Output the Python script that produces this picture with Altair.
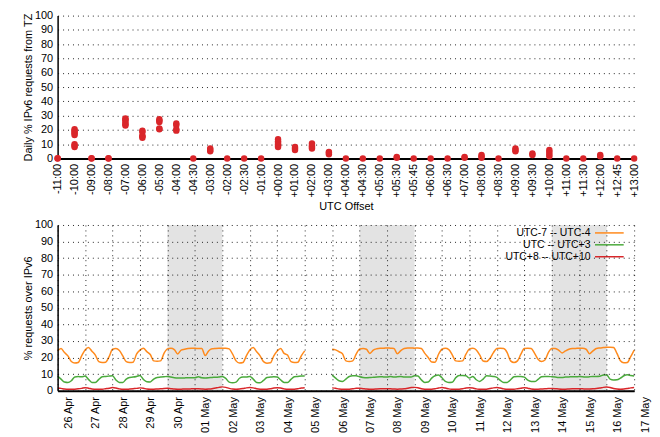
import json
import altair as alt
import pandas as pd

# ---------------- top panel data ----------------
offsets = ["-11:00", "-10:00", "-09:00", "-08:00", "-07:00", "-06:00", "-05:00", "-04:00",
           "-04:30", "-03:00", "-02:00", "-02:30", "-01:00", "+00:00", "+01:00", "+02:00",
           "+03:00", "+04:00", "+04:30", "+05:00", "+05:30", "+05:45", "+06:00", "+06:30",
           "+07:00", "+08:00", "+08:30", "+09:00", "+09:30", "+10:00", "+11:00", "+11:30",
           "+12:00", "+12:45", "+13:00"]

daily_pct = {
    "-11:00": [0.0, 0.2],
    "-10:00": [16.5, 17.5, 18.5, 19.5, 20.5, 8.0, 9.0, 10.0],
    "-09:00": [0.0, 0.2],
    "-08:00": [0.0, 0.2],
    "-07:00": [23.0, 24.0, 25.0, 26.5, 27.5, 28.0],
    "-06:00": [14.5, 15.5, 16.0, 18.5, 19.5],
    "-05:00": [20.5, 21.0, 25.5, 26.5, 27.5],
    "-04:00": [19.5, 20.5, 23.5, 24.5],
    "-04:30": [0.0],
    "-03:00": [5.0, 6.0, 7.0],
    "-02:00": [0.0],
    "-02:30": [0.0],
    "-01:00": [0.0],
    "+00:00": [8.0, 9.0, 10.0, 11.0, 12.0, 13.5],
    "+01:00": [6.0, 7.0, 8.0],
    "+02:00": [7.0, 8.0, 9.0, 10.5],
    "+03:00": [3.0, 4.0, 4.5],
    "+04:00": [0.0],
    "+04:30": [0.0],
    "+05:00": [0.0],
    "+05:30": [0.5, 1.0],
    "+05:45": [0.0],
    "+06:00": [0.0],
    "+06:30": [0.0],
    "+07:00": [0.5, 1.0],
    "+08:00": [0.5, 1.5, 2.5],
    "+08:30": [0.0],
    "+09:00": [5.0, 6.0, 7.0],
    "+09:30": [2.5, 3.5],
    "+10:00": [1.5, 3.0, 4.5, 6.0],
    "+11:00": [0.0],
    "+11:30": [0.0],
    "+12:00": [1.5, 2.5],
    "+12:45": [0.0],
    "+13:00": [0.0],
}

# ---------------- bottom panel data ----------------
day_labels = ["26 Apr", "27 Apr", "28 Apr", "29 Apr", "30 Apr", "01 May", "02 May", "03 May",
              "04 May", "05 May", "06 May", "07 May", "08 May", "09 May", "10 May", "11 May",
              "12 May", "13 May", "14 May", "15 May", "16 May", "17 May"]
series_names = ["UTC-7 -- UTC-4", "UTC -- UTC+3", "UTC+8 -- UTC+10"]
series_colors = ["#ff8a1c", "#4aaa3c", "#d9262a"]
hours = [0, 3, 6, 9, 12, 15, 18, 21]

weekend_start = [4, 11, 18]
weekend_end = [6, 13, 20]

# segment A: 26 Apr .. 04 May (days 0-8), segment B: 06 May .. 16 May (days 10-20)
seg_a_days = [0, 1, 2, 3, 4, 5, 6, 7, 8]
seg_b_days = [10, 11, 12, 13, 14, 15, 16, 17, 18, 19, 20]

orange_a = [
    [24.0, 25.4, 23.0, 21.0, 17.6, 16.7, 17.0, 21.0],
    [24.6, 26.0, 23.8, 21.5, 17.5, 17.0, 17.2, 20.5],
    [25.0, 25.4, 24.2, 21.0, 17.5, 17.0, 17.2, 22.0],
    [24.5, 25.6, 23.6, 21.8, 18.0, 17.8, 18.0, 22.5],
    [25.2, 25.6, 24.8, 22.2, 24.5, 25.0, 25.4, 25.6],
    [25.6, 25.4, 25.5, 21.2, 24.0, 25.3, 25.5, 25.6],
    [25.6, 25.6, 25.2, 22.0, 18.0, 16.7, 17.0, 21.0],
    [24.6, 26.0, 23.5, 21.0, 17.5, 16.6, 16.8, 21.0],
    [24.0, 25.5, 22.5, 21.5, 17.5, 17.0, 17.2, 21.0],
]
orange_a_end = 24.0
orange_b = [
    [25.0, 24.6, 23.5, 22.3, 18.0, 17.6, 18.0, 22.0],
    [25.2, 25.5, 25.0, 22.5, 24.5, 25.3, 25.6, 25.6],
    [25.8, 25.6, 25.5, 22.3, 24.2, 25.5, 25.8, 25.8],
    [25.6, 25.8, 25.5, 22.5, 20.0, 17.3, 17.2, 22.0],
    [25.0, 25.6, 24.8, 21.6, 18.0, 17.8, 18.0, 22.0],
    [25.2, 25.6, 24.6, 21.6, 17.9, 17.6, 19.5, 23.0],
    [25.4, 25.6, 25.4, 23.0, 18.0, 17.0, 18.0, 22.0],
    [25.4, 25.6, 25.4, 22.5, 19.0, 17.6, 18.5, 23.0],
    [25.5, 25.4, 24.5, 22.8, 24.0, 25.0, 25.4, 25.5],
    [25.6, 25.6, 25.0, 22.3, 24.0, 25.5, 25.8, 26.0],
    [26.2, 26.2, 26.0, 22.5, 18.0, 16.8, 17.0, 20.5],
]
orange_b_end = 24.5

green_a = [
    [8.8, 7.0, 5.2, 4.9, 6.0, 8.3, 8.5, 8.4],
    [8.8, 6.8, 5.0, 5.0, 6.8, 8.4, 8.6, 8.8],
    [9.0, 6.5, 5.0, 5.0, 7.0, 8.0, 8.2, 8.6],
    [9.2, 6.8, 5.4, 5.3, 7.0, 8.0, 8.2, 8.4],
    [8.6, 8.2, 7.8, 7.6, 7.6, 7.7, 7.8, 7.8],
    [7.8, 8.4, 7.8, 7.7, 7.8, 8.0, 8.1, 8.3],
    [8.6, 7.4, 5.2, 4.8, 5.2, 7.5, 8.2, 8.2],
    [8.6, 7.0, 5.0, 4.8, 6.2, 8.0, 8.2, 8.4],
    [8.2, 6.5, 5.0, 4.9, 6.8, 8.4, 8.6, 8.8],
]
green_a_end = 8.8
green_b = [
    [9.4, 7.6, 6.0, 5.6, 7.0, 8.6, 9.0, 9.0],
    [8.4, 8.0, 7.8, 7.9, 8.1, 8.3, 8.4, 8.3],
    [8.2, 8.6, 8.2, 8.4, 8.5, 8.2, 8.3, 8.2],
    [9.0, 8.8, 6.5, 5.0, 5.2, 7.6, 9.0, 9.4],
    [7.8, 5.6, 5.0, 5.1, 7.8, 9.2, 9.2, 9.0],
    [7.6, 8.6, 6.6, 5.6, 7.0, 9.0, 8.8, 8.6],
    [8.0, 6.2, 5.0, 5.0, 6.6, 8.4, 8.6, 8.6],
    [8.2, 6.4, 5.6, 5.5, 6.8, 8.4, 8.6, 8.6],
    [8.4, 8.2, 8.0, 8.0, 8.2, 8.3, 8.4, 8.4],
    [8.5, 8.4, 8.2, 8.4, 8.6, 8.6, 8.7, 9.4],
    [9.4, 7.0, 6.5, 6.6, 7.6, 9.0, 9.6, 9.2],
]
green_b_end = 8.8

red_a = [
    [1.6, 1.4, 1.0, 0.8, 0.8, 0.9, 1.1, 1.4],
    [1.8, 1.5, 1.0, 0.9, 0.8, 0.9, 1.2, 1.5],
    [1.9, 1.6, 1.1, 0.8, 0.8, 1.0, 1.2, 1.4],
    [1.7, 1.5, 1.0, 0.9, 0.9, 1.0, 1.1, 1.3],
    [1.4, 1.2, 1.0, 0.9, 0.9, 1.0, 1.0, 1.1],
    [1.2, 1.1, 1.0, 0.9, 1.0, 1.2, 1.6, 2.0],
    [2.3, 2.0, 1.4, 1.0, 0.9, 1.0, 1.3, 1.7],
    [1.9, 1.7, 1.2, 0.9, 0.8, 0.9, 1.2, 1.6],
    [1.8, 1.6, 1.1, 0.8, 0.8, 0.9, 1.2, 1.6],
]
red_a_end = 1.8
red_b = [
    [1.7, 1.5, 1.0, 0.9, 0.8, 0.9, 1.1, 1.4],
    [1.4, 1.2, 1.0, 0.9, 0.9, 1.0, 1.1, 1.2],
    [1.2, 1.1, 1.0, 0.9, 1.0, 1.1, 1.5, 1.9],
    [2.0, 1.8, 1.2, 0.9, 0.8, 0.9, 1.2, 1.6],
    [1.9, 1.6, 1.1, 0.9, 0.8, 0.9, 1.2, 1.6],
    [1.8, 1.6, 1.1, 0.9, 0.8, 0.9, 1.3, 1.7],
    [1.9, 1.6, 1.1, 0.8, 0.8, 0.9, 1.2, 1.5],
    [1.8, 1.5, 1.0, 0.9, 0.9, 1.0, 1.1, 1.3],
    [1.3, 1.2, 1.0, 0.9, 0.9, 1.0, 1.1, 1.2],
    [1.2, 1.1, 1.0, 1.0, 1.1, 1.3, 1.6, 2.0],
    [2.2, 1.9, 1.3, 1.0, 0.9, 1.0, 1.3, 1.7],
]
red_b_end = 1.9

# ---------------- build tables ----------------
top_df = pd.DataFrame([{"offset": o, "pct": v} for o in offsets for v in daily_pct[o]])

rows = []
def add_series(name, seg, days, values, end_value):
    for d, day_vals in zip(days, values):
        for h, v in zip(hours, day_vals):
            rows.append({"series": name, "segment": f"{name}-{seg}", "t": d + h / 24.0, "pct": v})
    rows.append({"series": name, "segment": f"{name}-{seg}", "t": days[-1] + 1.0, "pct": end_value})

add_series(series_names[0], "a", seg_a_days, orange_a, orange_a_end)
add_series(series_names[0], "b", seg_b_days, orange_b, orange_b_end)
add_series(series_names[1], "a", seg_a_days, green_a, green_a_end)
add_series(series_names[1], "b", seg_b_days, green_b, green_b_end)
add_series(series_names[2], "a", seg_a_days, red_a, red_a_end)
add_series(series_names[2], "b", seg_b_days, red_b, red_b_end)
line_df = pd.DataFrame(rows)

wk_df = pd.DataFrame({"start": weekend_start, "end": weekend_end})

FONT = "Liberation Sans"
FS = 11
y_ticks = list(range(0, 101, 10))

# ---------------- top chart ----------------
top = alt.Chart(top_df).mark_circle(size=42, opacity=1, color="#d9262a").encode(
    x=alt.X("offset:N", sort=offsets,
            scale=alt.Scale(type="point", padding=0),
            axis=alt.Axis(title="UTC Offset", labelAngle=270, labelPadding=5,
                          titlePadding=3, grid=False, labelOverlap=False,
                          domainWidth=2)),
    y=alt.Y("pct:Q", scale=alt.Scale(domain=[0, 100], nice=False),
            axis=alt.Axis(title="Daily % IPv6 requests from TZ", values=y_ticks,
                          grid=True, labelPadding=5, titlePadding=1)),
).properties(width=581, height=144)

# ---------------- bottom chart ----------------
x_scale = alt.Scale(domain=[0, 21], nice=False, zero=False)
y_scale = alt.Scale(domain=[0, 100], nice=False)
x_axis = alt.Axis(title=None, values=list(range(22)),
                  labelExpr=f"{json.dumps(day_labels)}[datum.value]",
                  labelAngle=270, labelOffset=11, labelPadding=6,
                  labelOverlap=False, grid=True, zindex=1, domainWidth=2)
y_axis = alt.Axis(title="% requests over IPv6", values=y_ticks, grid=True,
                  labelPadding=5, titlePadding=1, zindex=1)

bands = alt.Chart(wk_df).mark_rect(color="#e3e3e3").encode(
    x=alt.X("start:Q", scale=x_scale, axis=x_axis),
    x2="end:Q",
    y=alt.YDatum(0, scale=y_scale, axis=y_axis),
    y2=alt.Y2Datum(100),
)

lines = alt.Chart(line_df).mark_line(interpolate="monotone", strokeWidth=1.5).encode(
    x=alt.X("t:Q", scale=x_scale, axis=x_axis),
    y=alt.Y("pct:Q", scale=y_scale, axis=y_axis),
    color=alt.Color("series:N",
                    scale=alt.Scale(domain=series_names, range=series_colors),
                    legend=alt.Legend(title=None, orient="none", legendX=550, legendY=2,
                                      symbolType="M-3,0L3,0", symbolSize=93,
                                      symbolStrokeWidth=1.5, symbolFillColor="transparent",
                                      labelAlign="right",
                                      labelOffset={"expr": "-25"}, rowPadding=-1,
                                      labelFontSize=10.5, labelFont=FONT,
                                      labelColor="#000", labelLimit=200)),
    detail="segment:N",
)

bottom = alt.layer(bands, lines).properties(width=581, height=167)

chart = alt.vconcat(top, bottom, spacing=8).resolve_legend(color="independent").properties(
    padding={"left": 14, "top": 0, "right": 2, "bottom": 0}
).configure(font=FONT).configure_axis(
    labelFont=FONT, titleFont=FONT, labelFontSize=FS, titleFontSize=FS,
    titleFontWeight="normal", labelColor="#000", titleColor="#000",
    domainColor="#000", domainWidth=1.5, ticks=False,
    gridColor="#000", gridDash=[1, 4], gridWidth=1, gridOpacity=0.85,
).configure_view(stroke=None)

chart.save("out.html", embed_options={"renderer": "svg", "actions": False})
